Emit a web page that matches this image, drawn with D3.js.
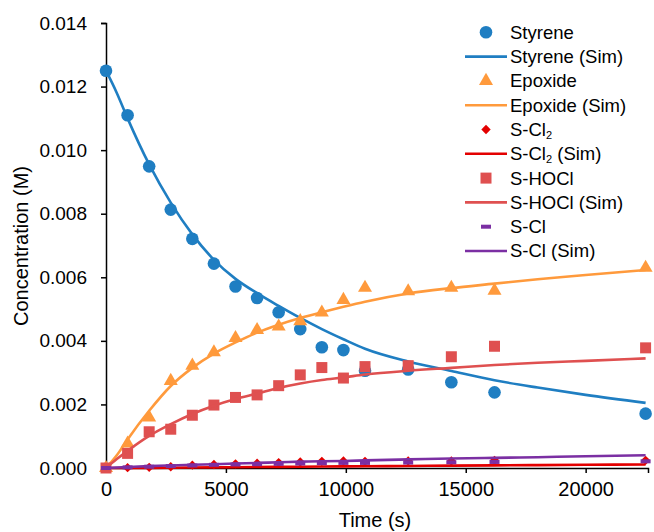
<!DOCTYPE html>
<html>
<head>
<meta charset="utf-8">
<title>Concentration vs Time</title>
<script src="https://d3js.org/d3.v7.min.js"></script>
<style>
    body { margin: 0; background: #fff; }
    text { font-family: "Liberation Sans", Arial, sans-serif; fill: #000; }
</style>
</head>
<body>
<div id="chart"></div>
<script>
    // measured points
    const obsTimes = [0, 900, 1800, 2700, 3600, 4500, 5400, 6300, 7200, 8100, 9000, 9900, 10800, 12600, 14400, 16200, 22500];
    const styreneObs = [0.0125, 0.0111, 0.00949, 0.00813, 0.00721, 0.00643, 0.00571, 0.00535, 0.0049, 0.00437, 0.0038, 0.00371, 0.00306, 0.0031, 0.0027, 0.00238, 0.00171];
    const epoxideObs = [0, 0.00077, 0.00159, 0.00274, 0.00322, 0.00364, 0.00409, 0.00434, 0.00445, 0.00462, 0.00489, 0.00529, 0.00567, 0.00556, 0.00567, 0.00558, 0.0063];
    const scl2Obs = [0, 0.00001, 0.00002, 0.00004, 0.00009, 0.00011, 0.00013, 0.00015, 0.00017, 0.00019, 0.00021, 0.00022, 0.00021, 0.00022, 0.00022, 0.00024, 0.00024];
    const shoclObs = [0, 0.00046, 0.00114, 0.00122, 0.00166, 0.00198, 0.00222, 0.0023, 0.00259, 0.00293, 0.00316, 0.00283, 0.00319, 0.00322, 0.0035, 0.00383, 0.00378];
    const sclObs = [0, 0.00002, 0.00004, 0.00006, 0.00008, 0.0001, 0.00011, 0.00012, 0.00013, 0.00014, 0.00015, 0.00016, 0.00016, 0.00017, 0.00018, 0.00019, 0.00021];

    // simulated curves
    const simTimes = [0, 450, 900, 1800, 2700, 3600, 4500, 5400, 6300, 7200, 8100, 9000, 9900, 10800, 12600, 14400, 16200, 18000, 20000, 22500];
    const styreneSim = [0.0125, 0.0118, 0.0110, 0.00955, 0.00835, 0.00735, 0.00655, 0.00595, 0.0055, 0.0051, 0.00472, 0.00437, 0.00405, 0.00375, 0.00335, 0.00305, 0.00276, 0.00253, 0.0023, 0.00205];
    const epoxideSim = [0, 0.0004, 0.0009, 0.0018, 0.00258, 0.00315, 0.0036, 0.00395, 0.00426, 0.00451, 0.00472, 0.0049, 0.00507, 0.00523, 0.00549, 0.00566, 0.0058, 0.00594, 0.00607, 0.00623];
    const scl2Sim = [0, 0, 0.000002, 0.000005, 0.00001, 0.000015, 0.00002, 0.000025, 0.00003, 0.000035, 0.00004, 0.000045, 0.00005, 0.000055, 0.000065, 0.000075, 0.000083, 0.00009, 0.0001, 0.00011];
    const shoclSim = [0, 0.00028, 0.00054, 0.00101, 0.00138, 0.0017, 0.00196, 0.00217, 0.00234, 0.00252, 0.00266, 0.00277, 0.00285, 0.00294, 0.00306, 0.00315, 0.00324, 0.00331, 0.00337, 0.00345];
    const sclSim = [0, 0.000015, 0.00003, 0.00006, 0.00008, 0.0001, 0.00012, 0.00014, 0.00016, 0.00018, 0.0002, 0.00021, 0.00022, 0.00024, 0.00027, 0.0003, 0.00032, 0.00034, 0.00037, 0.0004];

    const xTicks = [0, 5000, 10000, 15000, 20000];
    const yTicks = [0, 0.002, 0.004, 0.006, 0.008, 0.010, 0.012, 0.014];

    const width = 654, height = 532;

    const svg = d3.select("#chart").append("svg")
        .attr("width", width)
        .attr("height", height);

    const x = d3.scaleLinear().domain([0, 22600]).range([106, 648]);
    const y = d3.scaleLinear().domain([0, 0.014]).range([468, 23]);

    // axes
    const xAxis = svg.append("g")
        .attr("transform", "translate(0," + y(0) + ")")
        .call(d3.axisBottom(x).tickValues(xTicks).tickFormat(d3.format("d")).tickSizeOuter(0).tickSize(5).tickPadding(9));
    const yAxis = svg.append("g")
        .attr("transform", "translate(" + x(0) + ",0)")
        .call(d3.axisLeft(y).tickValues(yTicks).tickFormat(d3.format(".3f")).tickSizeOuter(0).tickSize(5).tickPadding(14));

    [xAxis, yAxis].forEach(a => {
        a.select(".domain").attr("stroke", "#000").attr("stroke-width", 1.5);
        a.selectAll(".tick line").attr("stroke", "#000").attr("stroke-width", 1.5);
        a.selectAll(".tick text").style("font-size", "20px").style("font-family", "Liberation Sans, Arial, sans-serif").attr("fill", "#000");
    });
    yAxis.selectAll(".tick text").style("font-size", "19px");

    svg.append("text")
        .attr("x", 375).attr("y", 527)
        .attr("text-anchor", "middle")
        .style("font-size", "20px")
        .text("Time (s)");

    svg.append("text")
        .attr("transform", "translate(28,246) rotate(-90)")
        .attr("text-anchor", "middle")
        .style("font-size", "20px")
        .text("Concentration (M)");

    // series
    const series = [
        { name: "Styrene", color: "#1f7ec2", shape: "circle", obs: styreneObs, sim: styreneSim },
        { name: "Epoxide", color: "#ff9a3c", shape: "triangle", obs: epoxideObs, sim: epoxideSim },
        { name: "S-Cl", sub: "2", color: "#e30000", shape: "diamond", obs: scl2Obs, sim: scl2Sim },
        { name: "S-HOCl", color: "#df5050", shape: "square", obs: shoclObs, sim: shoclSim },
        { name: "S-Cl", color: "#7b2fa3", shape: "dash", obs: sclObs, sim: sclSim }
    ];

    const line = d3.line()
        .x(d => x(d[0]))
        .y(d => y(d[1]))
        .curve(d3.curveMonotoneX);

    function drawMarker(g, shape, color) {
        if (shape === "circle") {
            g.append("circle").attr("r", 6.3).attr("fill", color);
        } else if (shape === "triangle") {
            g.append("path").attr("d", d3.symbol(d3.symbolTriangle, 85)()).attr("fill", color);
        } else if (shape === "square") {
            g.append("path").attr("d", d3.symbol(d3.symbolSquare, 121)()).attr("fill", color);
        } else if (shape === "diamond") {
            g.append("path").attr("d", d3.symbol(d3.symbolSquare, 44)()).attr("transform", "rotate(45)").attr("fill", color);
        } else if (shape === "dash") {
            g.append("rect").attr("x", -5).attr("y", -2).attr("width", 10).attr("height", 4).attr("fill", color);
        }
    }

    const plot = svg.append("g");
    series.forEach(s => {
        const pts = plot.append("g");
        obsTimes.forEach((t, i) => {
            const g = pts.append("g").attr("transform", "translate(" + x(t) + "," + y(s.obs[i]) + ")");
            drawMarker(g, s.shape, s.color);
        });
        plot.append("path")
            .datum(simTimes.map((t, i) => [t, s.sim[i]]))
            .attr("d", line)
            .attr("fill", "none")
            .attr("stroke", s.color)
            .attr("stroke-width", 2.6);
    });

    // legend
    const legend = svg.append("g");
    const rowH = 24.3, legendTop = 32.3;
    series.forEach((s, i) => {
        const y1 = legendTop + rowH * 2 * i, y2 = y1 + rowH;
        const m = legend.append("g").attr("transform", "translate(486," + y1 + ")");
        drawMarker(m, s.shape, s.color);
        legend.append("line")
            .attr("x1", 465).attr("x2", 507).attr("y1", y2).attr("y2", y2)
            .attr("stroke", s.color).attr("stroke-width", 2.6);
        [[y1, ""], [y2, " (Sim)"]].forEach(([yy, suffix]) => {
            const t = legend.append("text")
                .attr("x", 510).attr("y", yy).attr("dy", "0.35em")
                .style("font-size", "18.5px");
            t.append("tspan").text(s.name);
            if (s.sub) {
                t.append("tspan").attr("dy", 3).style("font-size", "11px").text(s.sub);
                if (suffix) t.append("tspan").attr("dy", -3).text(suffix);
            } else if (suffix) {
                t.append("tspan").text(suffix);
            }
        });
    });
</script>
</body>
</html>
